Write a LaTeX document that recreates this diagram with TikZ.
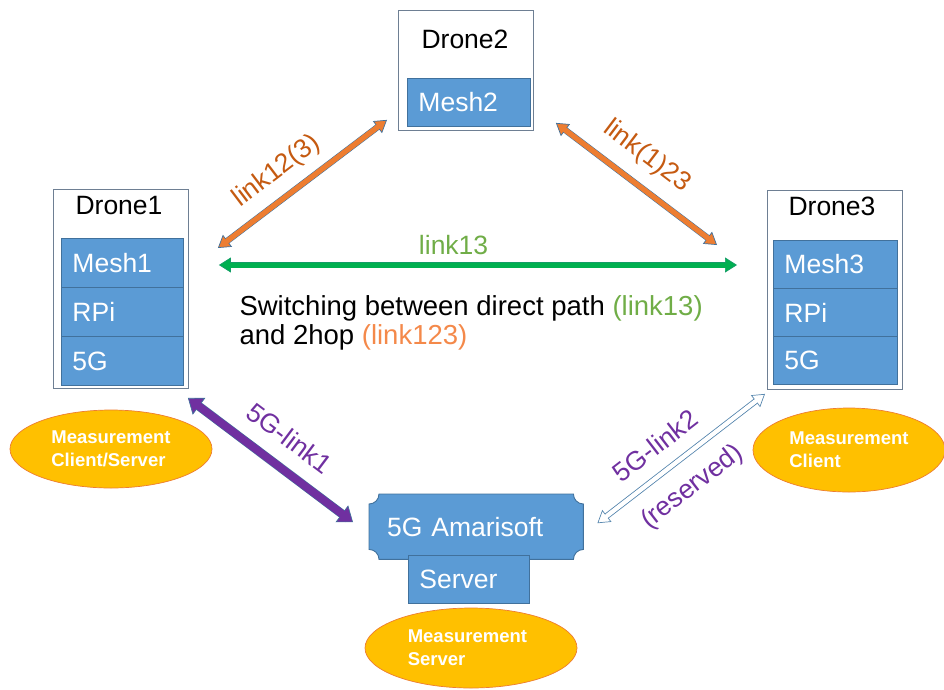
\documentclass[tikz,border=0pt]{standalone}
\usepackage{fontspec}
\setmainfont{Liberation Sans}
\usetikzlibrary{arrows.meta,shapes.geometric,calc,backgrounds}

\definecolor{boxblue}{HTML}{5B9BD5}
\definecolor{boxedge}{HTML}{41719C}
\definecolor{frameedge}{HTML}{6E7F93}
\definecolor{linkorange}{HTML}{ED7D31}
\definecolor{labelorange}{HTML}{C55A11}
\definecolor{hoporange}{HTML}{F4894A}
\definecolor{directgreen}{HTML}{00B050}
\definecolor{labelgreen}{HTML}{70AD47}
\definecolor{fivegpurple}{HTML}{7030A0}
\definecolor{measfill}{HTML}{FFC000}
\definecolor{measedge}{HTML}{ED7D31}
\definecolor{hollowedge}{HTML}{5A89B0}

\begin{document}
\begin{tikzpicture}[x=1pt,y=1pt,
  bigfont/.style={font=\fontsize{26.5}{32}\selectfont},
  frame/.style={draw=frameedge, line width=0.9pt, fill=white, anchor=north west,
    inner sep=0pt},
  part/.style 2 args={draw=boxedge, line width=0.9pt, fill=boxblue, anchor=north west,
    inner xsep=11pt, inner ysep=0pt, text width=#1, minimum height=#2,
    text=white, align=left, bigfont},
  meas/.style={ellipse, draw=measedge, line width=0.7pt, fill=measfill, inner sep=0pt,
    text=white, align=left, font=\fontsize{18.5}{23}\selectfont\bfseries},
  % block arrow: fill colour / edge colour / shaft width / shaft+edge width / tip length / tip width
  fatarrow/.style args={#1/#2/#3/#4/#5/#6}{draw=#1, line width=#3,
    {Triangle[length=#5,width=#6,line width=0.7pt,color=#2,fill=#1]}-{Triangle[length=#5,width=#6,line width=0.7pt,color=#2,fill=#1]},
    preaction={draw=#2, line width=#4, arrows=-, shorten <=6pt, shorten >=6pt},
    postaction={draw=#1, line width=#3, arrows=-, shorten <=#5-2.5pt, shorten >=#5-2.5pt}},
  linklabel/.style={bigfont, sloped, inner xsep=0pt}
]
\path[use as bounding box] (0,0) rectangle (944,-689);

% ---- Drone 1 ----
\node[frame, minimum width=135pt, minimum height=199pt] (d1) at (53,-189) {};
\node[bigfont] (d1t) at (119,-206) {Drone1};
\node[part={100pt}{49pt}] (d1mesh) at (61,-238) {Mesh1};
\node[part={100pt}{49pt}] (d1rpi) at (61,-287) {RPi};
\node[part={100pt}{49pt}] (d1g) at (61,-336) {5G};

% ---- Drone 2 ----
\node[frame, minimum width=135pt, minimum height=120pt] (d2) at (398,-10) {};
\node[bigfont] (d2t) at (465,-39) {Drone2};
\node[part={101pt}{48pt}] (d2mesh) at (407,-78) {Mesh2};

% ---- Drone 3 ----
\node[frame, minimum width=135pt, minimum height=199pt] (d3) at (767,-190) {};
\node[bigfont] (d3t) at (832,-206) {Drone3};
\node[part={102pt}{48pt}] (d3mesh) at (773,-240) {Mesh3};
\node[part={102pt}{48pt}] (d3rpi) at (773,-288) {RPi};
\node[part={102pt}{48pt}] (d3g) at (773,-336) {5G};

% ---- 5G core with its plaque outline ----
\node[anchor=north west, minimum width=214pt, minimum height=65pt, inner xsep=18pt,
  inner ysep=0pt, text width=178pt, align=left, text=white, bigfont] (amari) at (369,-494)
  {5G Amarisoft};
\begin{scope}[on background layer]
  \draw[draw=boxedge, line width=0.9pt, fill=boxblue]
    ($(amari.north west)+(10,0)$) -- ($(amari.north east)+(-10,0)$)
    arc[start angle=180, end angle=270, radius=10]
    -- ($(amari.south east)+(0,10)$)
    arc[start angle=90, end angle=180, radius=10]
    -- ($(amari.south west)+(10,0)$)
    arc[start angle=0, end angle=90, radius=10]
    -- ($(amari.north west)+(0,-10)$)
    arc[start angle=270, end angle=360, radius=10] -- cycle;
\end{scope}
\node[part={99pt}{48pt}] (srv) at (408,-555) {Server};

% ---- measurement endpoints ----
\node[meas, minimum width=202pt, minimum height=78pt] (m1) at (111,-449)
  {Measurement\\Client/Server};
\node[meas, minimum width=192pt, minimum height=84pt] (m3) at (849,-450)
  {Measurement\\Client\phantom{/Server}};
\node[meas, minimum width=212pt, minimum height=80pt] (ms) at (471,-648)
  {Measurement\\Server\phantom{Client/S}};

% ---- link end points, placed next to the drones and the core ----
\coordinate (l12a) at ($(d1.north east)+(29,-59)$);
\coordinate (l12b) at ($(d2.south west)+(-11,11)$);
\coordinate (l23a) at ($(d2.south east)+(22,8)$);
\coordinate (l23b) at ($(d3.north west)+(-50,-55)$);
\coordinate (l13a) at ($(d1.north east)+(30,-76)$);
\coordinate (l13b) at ($(d3.north west)+(-30,-75)$);
\coordinate (g1a) at ($(d1.south east)+(-1,-9)$);
\coordinate (g1b) at ($(amari.west)+(-16,4.5)$);
\coordinate (g2a) at ($(amari.east)+(14,3.5)$);
\coordinate (g2b) at ($(d3.south west)+(-2,-4)$);

% ---- mesh links ----
\draw[fatarrow={linkorange/boxedge/5pt/6.3pt/12pt/15pt}] (l12a) -- (l12b)
  node[linklabel, pos=0.44, anchor=south, inner ysep=10.8pt, text=labelorange] (l12) {link12(3)};
\draw[fatarrow={linkorange/boxedge/5pt/6.3pt/12pt/15pt}] (l23a) -- (l23b)
  node[linklabel, pos=0.46, anchor=south, inner ysep=13.5pt, text=labelorange] (l23) {link(1)23};
\draw[fatarrow={directgreen/directgreen!70!boxedge/5pt/5.8pt/12pt/15pt}] (l13a) -- (l13b)
  node[bigfont, pos=0.453, anchor=south, inner ysep=8pt, text=labelgreen] (l13) {link13};

\node[bigfont, font=\fontsize{27.5}{29}\selectfont, anchor=west, align=left] (note) at (236,-323)
  {Switching between direct path \textcolor{labelgreen}{(link13)}\\
   and 2hop \textcolor{hoporange}{(link123)}};

% ---- 5G links ----
\draw[fatarrow={fivegpurple/boxedge/7.5pt/8.9pt/14pt/21pt}] (g1a) -- (g1b)
  node[linklabel, pos=0.51, anchor=south, inner ysep=15.5pt, text=fivegpurple] (g1) {5G-link1};
\draw[fatarrow={white/hollowedge/4pt/6pt/12pt/15pt}] (g2a) -- (g2b)
  node[linklabel, pos=0.44, anchor=south, inner ysep=14.5pt, text=fivegpurple] (g2) {5G-link2}
  node[linklabel, pos=0.46, anchor=north, inner ysep=15.3pt, text=fivegpurple] (g2r) {(reserved)};
\end{tikzpicture}
\end{document}
